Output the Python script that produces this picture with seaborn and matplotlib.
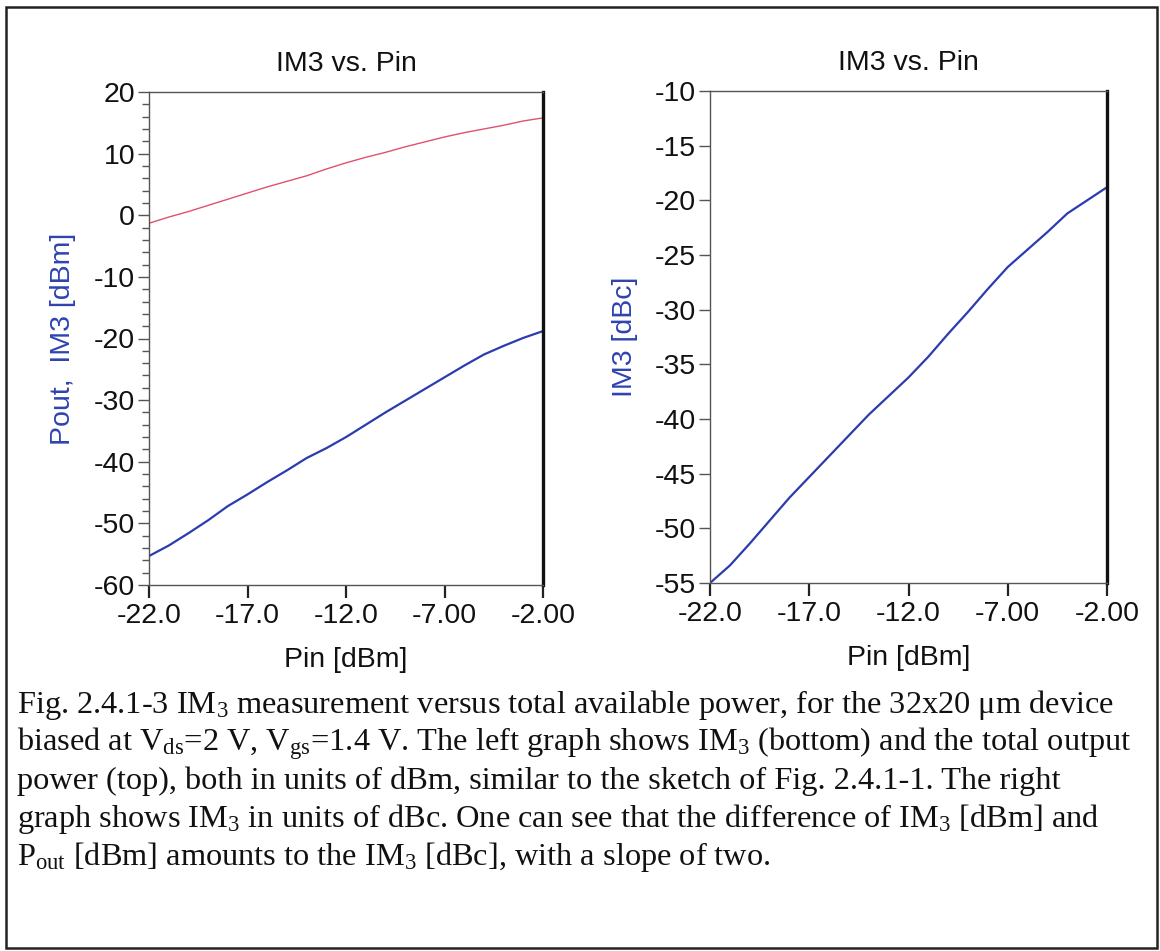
import matplotlib
matplotlib.use("Agg")
import matplotlib.pyplot as plt
from matplotlib.patches import Rectangle
from matplotlib.ticker import MultipleLocator, FixedLocator
import seaborn as sns
import pandas as pd

# ---- data ----
pin = [-22, -21, -20, -19, -18, -17, -16, -15, -14, -13, -12, -11, -10,
       -9, -8, -7, -6, -5, -4, -3, -2]
pout_dbm = [-1.3, -0.3, 0.6, 1.6, 2.6, 3.6, 4.6, 5.5, 6.4, 7.5, 8.5, 9.4,
            10.2, 11.1, 11.9, 12.7, 13.4, 14.0, 14.6, 15.3, 15.8]
im3_dbm = [-55.3, -53.6, -51.6, -49.5, -47.2, -45.3, -43.3, -41.4, -39.4,
           -37.8, -36.0, -34.0, -32.0, -30.1, -28.2, -26.3, -24.4, -22.6,
           -21.2, -19.9, -18.8]
im3_dbc = [-55.0, -53.4, -51.4, -49.3, -47.2, -45.3, -43.4, -41.5, -39.6,
           -37.9, -36.2, -34.3, -32.2, -30.2, -28.1, -26.1, -24.5, -22.9,
           -21.2, -20.0, -18.8]
x_ticks = [-22, -17, -12, -7, -2]
x_ticklabels = ["-22.0", "-17.0", "-12.0", "-7.00", "-2.00"]
left_yticks = [-60, -50, -40, -30, -20, -10, 0, 10, 20]
right_yticks = [-55, -50, -45, -40, -35, -30, -25, -20, -15, -10]
title = "IM3 vs. Pin"
xlabel = "Pin [dBm]"
left_ylabel = "Pout,  IM3 [dBm]"
right_ylabel = "IM3 [dBc]"
caption_lines = [
    r"Fig. 2.4.1-3 IM$_3$ measurement versus total available power, for the 32x20 μm device",
    r"biased at V$_{\mathrm{ds}}$=2 V, V$_{\mathrm{gs}}$=1.4 V. The left graph shows IM$_3$ (bottom) and the total output",
    r"power (top), both in units of dBm, similar to the sketch of Fig. 2.4.1-1. The right",
    r"graph shows IM$_3$ in units of dBc. One can see that the difference of IM$_3$ [dBm] and",
    r"P$_{\mathrm{out}}$ [dBm] amounts to the IM$_3$ [dBc], with a slope of two.",
]

sns.set_style("white")
plt.rcParams["font.family"] = ["Liberation Sans", "DejaVu Sans"]
plt.rcParams["axes.unicode_minus"] = False
plt.rcParams["mathtext.fontset"] = "custom"
plt.rcParams["mathtext.rm"] = "Liberation Serif"
plt.rcParams["mathtext.it"] = "Liberation Serif:italic"
plt.rcParams["mathtext.bf"] = "Liberation Serif:bold"

W, H = 1160, 951
fig = plt.figure(figsize=(W / 100, H / 100), dpi=100)
fig.patch.set_facecolor("white")

def px_axes(x0, y0, x1, y1):
    return fig.add_axes([x0 / W, 1 - y1 / H, (x1 - x0) / W, (y1 - y0) / H])

axL = px_axes(149, 92, 543, 585)
axR = px_axes(710, 91, 1107, 583)

blue = "#2a3cae"
red = "#e2506e"
label_blue = "#2e43b0"
fs = 20.5

dfL = pd.DataFrame({"Pin": pin, "Pout": pout_dbm, "IM3": im3_dbm})
dfR = pd.DataFrame({"Pin": pin, "IM3c": im3_dbc})

sns.lineplot(data=dfL, x="Pin", y="Pout", ax=axL, color=red, linewidth=1.0)
sns.lineplot(data=dfL, x="Pin", y="IM3", ax=axL, color=blue, linewidth=1.6)
sns.lineplot(data=dfR, x="Pin", y="IM3c", ax=axR, color=blue, linewidth=1.6)

for ax in (axL, axR):
    ax.set_xlim(-22, -2)
    ax.xaxis.set_major_locator(FixedLocator(x_ticks))
    ax.set_xticklabels(x_ticklabels)
    for side in ("left", "bottom", "top"):
        ax.spines[side].set_color("#555555")
        ax.spines[side].set_linewidth(1.0)
        ax.spines[side].set_visible(True)
    ax.spines["right"].set_color("#111111")
    ax.spines["right"].set_linewidth(2.4)
    ax.spines["right"].set_visible(True)
    ax.tick_params(axis="x", which="major", direction="out", length=9,
                   width=1.6, color="#222222", labelsize=fs, pad=4,
                   bottom=True, top=False, labelcolor="#111111")
    ax.tick_params(axis="y", which="major", direction="out", length=8,
                   width=1.0, color="#555555", labelsize=fs, pad=2,
                   left=True, right=False, labelcolor="#111111")
    ax.set_title(title, fontsize=fs, pad=15, color="#111111")
    ax.set_xlabel(xlabel, fontsize=fs, labelpad=13, color="#111111")
    ax.grid(False)

axL.set_ylim(-60, 20)
axL.yaxis.set_major_locator(FixedLocator(left_yticks))
axL.yaxis.set_minor_locator(MultipleLocator(2))
axL.tick_params(axis="y", which="minor", direction="out", length=5,
                width=1.0, color="#555555", left=True)
axL.set_ylabel(left_ylabel, fontsize=fs, color=label_blue, labelpad=13)

axR.set_ylim(-55, -10)
axR.yaxis.set_major_locator(FixedLocator(right_yticks))
axR.set_ylabel(right_ylabel, fontsize=fs, color=label_blue, labelpad=12)

# caption
baselines = [713, 751, 789, 827, 865]
for line, yb in zip(caption_lines, baselines):
    fig.text(17 / W, 1 - yb / H, line, fontsize=23.3,
             family=["Liberation Serif", "DejaVu Serif"],
             ha="left", va="baseline", color="#111111")

# outer frame
fig.patches.append(Rectangle((6 / W, 3 / H), (1157 - 6) / W, (948 - 7) / H,
                             transform=fig.transFigure, fill=False,
                             edgecolor="#222222", linewidth=1.8))

fig.savefig("out.png", dpi=100)
